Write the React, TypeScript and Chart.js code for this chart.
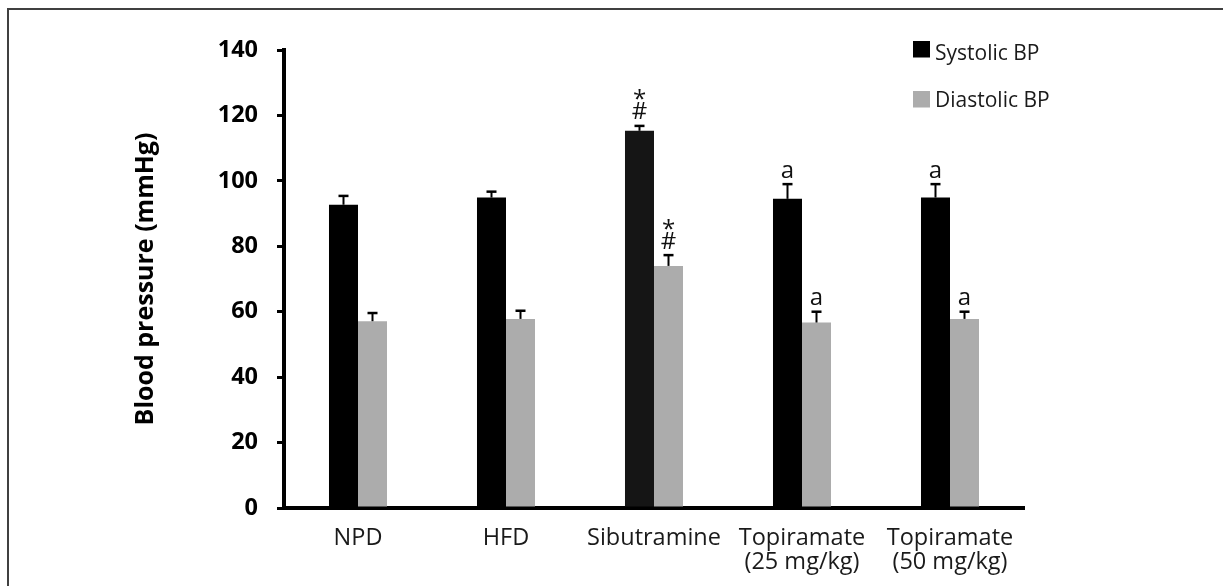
import React, { useEffect, useRef } from "react";
import { Chart, registerables } from "chart.js";

Chart.register(...registerables);

const categories: (string | string[])[] = [
  "NPD",
  "HFD",
  "Sibutramine",
  ["Topiramate", "(25 mg/kg)"],
  ["Topiramate", "(50 mg/kg)"],
];
const systolic = [92.7, 94.9, 115.3, 94.5, 94.9];
const systolicErr = [2.7, 1.8, 1.5, 4.5, 4.1];
const diastolic = [57.1, 57.8, 74.0, 56.7, 57.8];
const diastolicErr = [2.5, 2.5, 3.3, 3.3, 2.2];
const systolicMarks = [[], [], ["*", "#"], ["a"], ["a"]];
const diastolicMarks = [[], [], ["*", "#"], ["a"], ["a"]];
const yTicks = { min: 0, max: 140, step: 20 };

const FONT = "'Open Sans', sans-serif";
const SYS_COLORS = ["#000000", "#000000", "#151515", "#000000", "#000000"];
const DIA_COLOR = "#acacac";

const errorBarPlugin = {
  id: "errorBars",
  afterDatasetsDraw(chart: any) {
    const ctx = chart.ctx;
    const yScale = chart.scales.y;
    chart.data.datasets.forEach((ds: any, i: number) => {
      const meta = chart.getDatasetMeta(i);
      meta.data.forEach((el: any, j: number) => {
        const v = ds.data[j];
        const e = ds.errors[j];
        const top = yScale.getPixelForValue(v + e);
        ctx.save();
        ctx.strokeStyle = "#000";
        ctx.lineWidth = 2;
        ctx.beginPath();
        ctx.moveTo(el.x, el.y);
        ctx.lineTo(el.x, top);
        ctx.stroke();
        ctx.lineWidth = 2.5;
        ctx.beginPath();
        ctx.moveTo(el.x - 5, top);
        ctx.lineTo(el.x + 5, top);
        ctx.stroke();
        // significance marks
        const marks: string[] = ds.marks[j] || [];
        ctx.fillStyle = "#111";
        ctx.font = `24px ${FONT}`;
        ctx.textAlign = "center";
        ctx.textBaseline = "alphabetic";
        let base = top - 6.5;
        for (let k = marks.length - 1; k >= 0; k--) {
          const m = marks[k];
          ctx.fillText(m, el.x, m === "*" ? base + 3 : base);
          base -= 15;
        }
        ctx.restore();
      });
    });
  },
};

const legendPlugin = {
  id: "customLegend",
  afterDraw(chart: any) {
    const ctx = chart.ctx;
    ctx.save();
    chart.data.datasets.forEach((ds: any, i: number) => {
      ctx.fillStyle = ds.legendColor;
      ctx.fillRect(913, 41 + i * 50, 17, 16.5);
      ctx.fillStyle = "#1a1a1a";
      ctx.font = `21px ${FONT}`;
      ctx.textAlign = "left";
      ctx.textBaseline = "alphabetic";
      ctx.fillText(ds.label, 935, 59.5 + i * 47.5);
    });
    ctx.restore();
  },
};

export default function App() {
  const ref = useRef<HTMLCanvasElement | null>(null);

  useEffect(() => {
    if (!ref.current) return;
    const chart = new Chart(ref.current, {
      type: "bar",
      data: {
        labels: categories,
        datasets: [
          {
            label: "Systolic BP",
            data: systolic,
            errors: systolicErr,
            marks: systolicMarks,
            legendColor: "#000000",
            backgroundColor: SYS_COLORS,
            borderWidth: 0,
            categoryPercentage: 0.392,
            barPercentage: 1.0,
          } as any,
          {
            label: "Diastolic BP",
            data: diastolic,
            errors: diastolicErr,
            marks: diastolicMarks,
            legendColor: DIA_COLOR,
            backgroundColor: DIA_COLOR,
            borderWidth: 0,
            categoryPercentage: 0.392,
            barPercentage: 1.0,
          } as any,
        ],
      },
      options: {
        animation: false,
        responsive: false,
        devicePixelRatio: 1,
        layout: { padding: { left: 116, right: 199, top: 50, bottom: 8 } },
        plugins: {
          legend: { display: false },
          tooltip: { enabled: false },
          title: { display: false },
        },
        scales: {
          x: {
            z: 1,
            grid: { display: false, drawTicks: false },
            border: { display: true, width: 4, color: "#000" },
            ticks: {
              color: "#1a1a1a",
              font: { family: FONT, size: 23.5, lineHeight: 1.0 },
              padding: 19,
              maxRotation: 0,
              autoSkip: false,
            },
            afterFit: (scale: any) => {
              scale.height = 70;
            },
          },
          y: {
            z: 1,
            min: yTicks.min,
            max: yTicks.max,
            grid: {
              drawOnChartArea: false,
              drawTicks: true,
              tickLength: 7,
              lineWidth: 3,
              color: "#000",
            },
            border: { display: true, width: 4, color: "#000" },
            ticks: {
              stepSize: yTicks.step,
              color: "#000",
              font: { family: FONT, size: 23.5, weight: "bold" },
              padding: 19,
            },
            title: {
              display: true,
              text: "Blood pressure (mmHg)",
              color: "#000",
              font: { family: FONT, size: 25, weight: "bold", lineHeight: 1.2 },
              padding: { top: 15, bottom: 0 },
            },
            afterFit: (scale: any) => {
              scale.width = 168;
            },
          },
        },
      } as any,
      plugins: [errorBarPlugin, legendPlugin],
    });
    return () => chart.destroy();
  }, []);

  return (
    <div
      style={{
        position: "absolute",
        left: 0,
        top: 0,
        width: 1223,
        height: 586,
        overflow: "hidden",
        background: "#fff",
      }}
    >
      <div
        style={{
          position: "absolute",
          left: 7,
          top: 8,
          width: 1216,
          height: 578,
          boxSizing: "border-box",
          borderLeft: "2px solid #404040",
          borderTop: "2px solid #404040",
        }}
      />
      <canvas
        ref={ref}
        width={1223}
        height={586}
        style={{ position: "absolute", left: 0, top: 0, width: 1223, height: 586, display: "block" }}
      />
    </div>
  );
}
